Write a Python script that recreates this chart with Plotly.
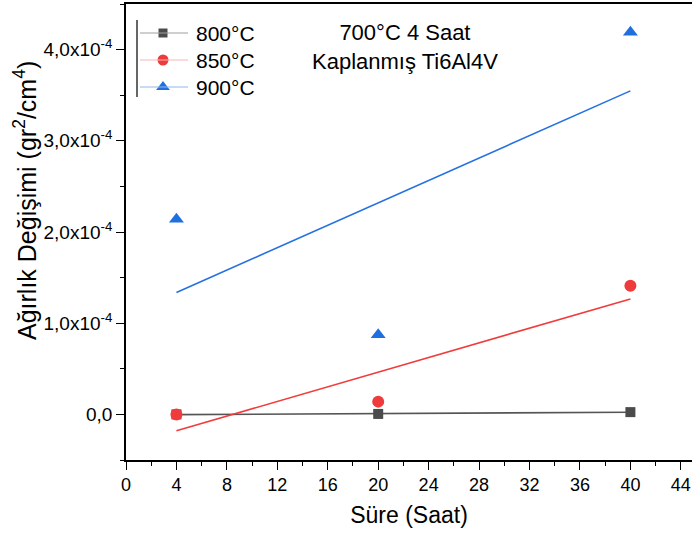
import numpy as np
import plotly.graph_objects as go

# Oxidation time (hours) and weight change (gr^2/cm^4) per temperature
hours = [4, 20, 40]
series_names = ["800°C", "850°C", "900°C"]
w800 = [0.0, 0.5e-6, 2.5e-6]
w850 = [0.0, 1.4e-5, 1.41e-4]
w900 = [2.14e-4, 0.874e-4, 4.19e-4]
series_values = [w800, w850, w900]

x_tickvals = list(range(0, 45, 4))
y_tickvals = [0.0, 1e-4, 2e-4, 3e-4, 4e-4]
y_ticktext = ["0,0", "1,0x10<sup>-4</sup>", "2,0x10<sup>-4</sup>",
              "3,0x10<sup>-4</sup>", "4,0x10<sup>-4</sup>"]

marker_colors = ["#4b4b4b", "#ef3b3b", "#1f6fde"]
fit_colors = ["#555555", "#f03c3c", "#2472e0"]
legend_line_colors = ["#a0a0a0", "#f7b5b5", "#92b7ec"]
symbols = ["square", "circle", "triangle-up"]
marker_sizes = [10, 12, 13]

FONT = "Arial, Liberation Sans, sans-serif"
W, H = 692, 533
ML, MR, MT, MB = 126, 0, 4, 73

fig = go.Figure()

x_arr = np.array(hours, dtype=float)
for name, vals, mc, fc, sym, ms in zip(series_names, series_values, marker_colors,
                                       fit_colors, symbols, marker_sizes):
    y_arr = np.array(vals, dtype=float)
    slope, intercept = np.polyfit(x_arr, y_arr, 1)
    x_fit = np.array([x_arr.min(), x_arr.max()])
    # linear fit
    fig.add_trace(go.Scatter(x=x_fit, y=slope * x_fit + intercept, mode="lines",
                             line=dict(color=fc, width=1.6), showlegend=False,
                             hoverinfo="skip"))
    # measured points
    fig.add_trace(go.Scatter(x=hours, y=vals, mode="markers",
                             marker=dict(symbol=sym, size=ms, color=mc, opacity=1),
                             showlegend=False, name=name))

plot_w = W - ML - MR
plot_h = H - MT - MB
px_per_x = 12.61
x_max = plot_w / px_per_x

# Legend drawn on a pixel-space overlay axis
LEG_X_LINE = (140, 188)
LEG_X_MARK = 163
LEG_X_TEXT = 194
LEG_ROWS = [33, 60, 87]

for name, lc, row in zip(series_names, legend_line_colors, LEG_ROWS):
    fig.add_shape(type="line", xref="x2", yref="y2", x0=LEG_X_LINE[0], x1=LEG_X_LINE[1],
                  y0=row, y1=row, line=dict(color=lc, width=1.2))
    fig.add_annotation(text=name, xref="x2", yref="y2", x=LEG_X_TEXT, y=row,
                       xanchor="left", yanchor="middle", showarrow=False,
                       font=dict(size=21, family=FONT))
fig.add_shape(type="line", xref="x2", yref="y2", x0=137, x1=137, y0=20, y1=97,
              line=dict(color="black", width=1.2))
for sym, ms, mc, row in zip(symbols, marker_sizes, marker_colors, LEG_ROWS):
    fig.add_trace(go.Scatter(x=[LEG_X_MARK], y=[row], mode="markers",
                             xaxis="x2", yaxis="y2", showlegend=False, hoverinfo="skip",
                             marker=dict(symbol=sym, size=ms - 1, color=mc, opacity=1)))

fig.update_layout(
    width=W, height=H,
    margin=dict(l=ML, r=MR, t=MT, b=MB, pad=0),
    paper_bgcolor="white", plot_bgcolor="white",
    font=dict(family=FONT, color="black", size=18),
    showlegend=False,
    xaxis=dict(range=[0, x_max], tickvals=x_tickvals, showline=True, linecolor="black",
               linewidth=1.6, mirror=True, ticks="outside", ticklen=8, tickwidth=1.4,
               tickcolor="black", showgrid=False, zeroline=False,
               tickfont=dict(size=18, family=FONT),
               minor=dict(dtick=2, ticks="outside", ticklen=4, tickcolor="black",
                          tickwidth=1.2, showgrid=False),
               title=dict(text="Süre (Saat)", font=dict(size=23, family=FONT), standoff=12)),
    yaxis=dict(range=[-0.5e-4, 4.5e-4], tickvals=y_tickvals, ticktext=y_ticktext,
               showline=True, linecolor="black", linewidth=1.6, mirror=False,
               ticks="outside", ticklen=8, tickwidth=1.4, tickcolor="black",
               showgrid=False, zeroline=False, tickfont=dict(size=19, family=FONT),
               minor=dict(dtick=0.5e-4, tick0=0, ticks="outside", ticklen=4,
                          tickcolor="black", tickwidth=1.2, showgrid=False)),
    xaxis2=dict(overlaying="x", range=[ML, W - MR], visible=False, fixedrange=True),
    yaxis2=dict(overlaying="y", range=[H - MB, MT], visible=False, fixedrange=True),
)

# y-axis title
fig.add_annotation(text="Ağırlık Değişimi (gr<sup>2</sup>/cm<sup>4</sup>)",
                   xref="paper", yref="paper", x=(25 - ML) / plot_w, y=1 - (201 - MT) / plot_h,
                   xanchor="center", yanchor="middle", textangle=-90, showarrow=False,
                   font=dict(size=25, family=FONT))

# sample description
fig.add_annotation(text="700°C 4 Saat<br>Kaplanmış Ti6Al4V",
                   xref="paper", yref="paper", x=(405 - ML) / plot_w, y=1 - (47 - MT) / plot_h,
                   xanchor="center", yanchor="middle", showarrow=False, align="center",
                   font=dict(size=22, family=FONT))

fig.write_html("out.html")
